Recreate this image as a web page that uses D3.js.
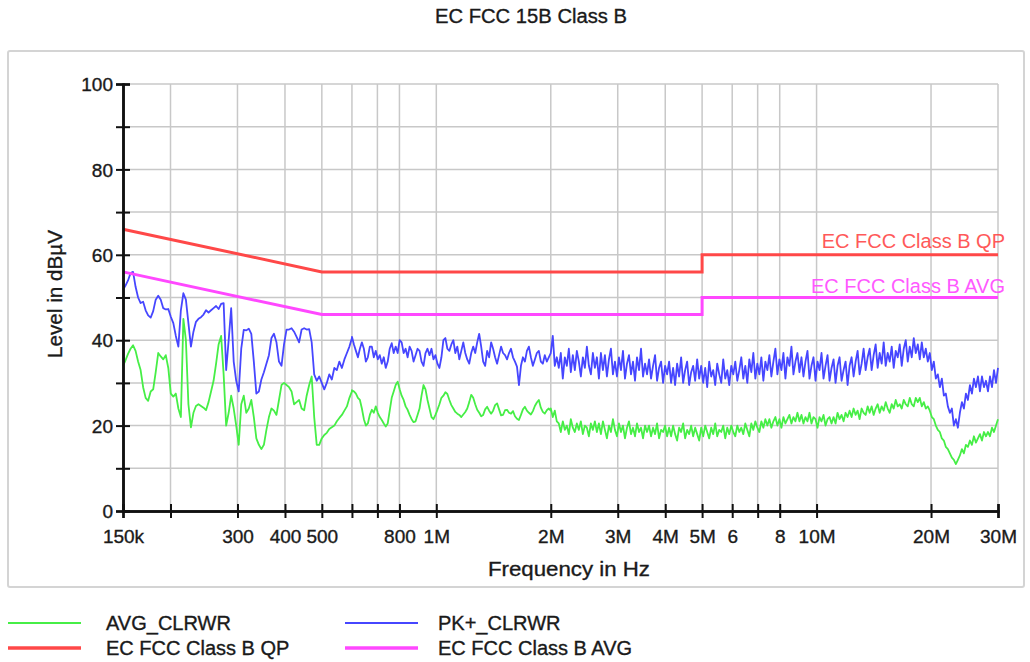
<!DOCTYPE html>
<html><head><meta charset="utf-8">
<script src="https://cdn.jsdelivr.net/npm/d3@7"></script>
<style>
body{margin:0;background:#fff;}
svg text{font-family:"Liberation Sans",Arial,sans-serif;fill:#1a1a1a;}
</style></head><body>
<svg id="chart" width="1030" height="662"></svg>
<script>
// ---------- data ----------
const chartTitle = "EC FCC 15B Class B";
const segStartHz = [150e3, 600e3, 2e6];
const segEndHz   = [600e3, 2e6, 30e6];

const pkA = [51.8,52.8,54,55.7,56,52.5,50,48.7,49,47,
45.8,45.3,46.8,49.5,50.4,49.5,47.5,47.2,47.3,45.5,
44,41,38.5,47,51,49.5,44,38.5,42,44.3,
45,45.4,46,47,46.5,47,47.5,48,47.3,48.5,
48.7,33,40,47.5,35,30.5,28,38,42.4,42.3,
42.7,41.5,35,27.5,28,30.8,32.5,34.5,36.5,40.5,
41.5,39.5,35,34,39,42.5,42.5,42.8,42,40.8,
39.5,42.5,42.8,42.5,42.6,39.5,32,30.5,31.5,30,
28.5,30,32,30.8,33.5,33,35,33.5,35.5,37,
38.5,40.5];
const pkB = [40.8,39,37.5,36,38,39.5,38,35,36,38.5,
38.5,36,37.5,35.5,36.5,34.5,36,33.5,35,38,
39.3,37,38.5,37,40,39.5,37,38,36,38.5,
37.5,35,36.5,38,37.5,35,34,37,38,36.5,
38,35.5,36.5,34.5,33.5,36,40,40.5,38,37.5,
39,40,37,38.5,35.5,37.5,39.5,37,35.5,34.5,
37,38.5,37,39.5,41.5,38.5,35,34,37.5,36,
39.5,38,36,34.5,36.5,38.5,37,36.5,35.5,37,
38,36,35,33.8,29.5,34,36,35,37.5,38.5,
36,34,35.5,37,37.5,35,34.5,36.5,35,36,
37];
const pkC = [37,41,34,36,
33.5,37,31,36,34,38,32.5,36.5,33,37.5,35,31.5,36,33.5,38.5,34,32,37,33.5,36,
31,37,33,36.5,31.5,35.5,38,32,35,
31.5,36,33,37.5,31,34.5,36.5,32,35,30.5,36,33,38,31.5,34.5,32,
35.5,31,34,36.5,30.5,33.5,35,30,34,32,
35,30,33.5,29.5,34.5,31.5,36,30,33,35,29.5,32.5,34,30.5,35.5,31,
34,30,33.5,29,35,31.5,33,29.5,34.5,32,30,35.5,31,33,29.5,34,32,
35,30.5,33,36,31,34,30,35.5,32.5,37,31,34.5,32,36,30.5,35,33,
36.5,31.5,35,38,32,35.5,33,37,31,36,34,38.5,32,35,37,32.5,
36,31.5,35,37.5,31,34,36,30.5,35,33,37,31,34,36.5,30.5,33.5,
35.5,30,34,36,30.5,33,35,29.5,34,
36,31.5,35,37.5,32,34.5,38,33,36,
38,33,36.5,39,33.5,37,34.5,39.5,34,37,35,38.5,33.5,37.5,36,39,
34,38,40,35,38.5,36,40.5,37,39,
35.5,39.5,36,38,35,
37,33,35,31,32,
29,31,27,27.5,24.5,
23,24,20,21.5,19.5,
23,25.5,24,27.5,26,
29.5,27.5,31,29,31.5,
28,31.5,29,30.5,28,
31.5,29,33,30,33.5];

const avgA = [34,35.3,36.8,38,38.8,37.5,35,33,29,26.5,
25.8,28,28.5,32.5,37,36.2,35.5,36.5,33.5,27.5,
26.8,27.5,24,22,45,40,25,19.6,23,24.6,
25,24.6,24.2,23.6,25.5,28,30.5,34.5,39,41,
32,20,23,27,24,20,15.5,25,27,23,
24,26,22,17,15.5,14.5,15.5,19,22,24,
23.5,22.5,26,29.5,30,29.5,29,28,25,25.5,
26,24,23.6,27,29.5,31.5,22,15.5,15.5,17,
17.8,18.3,19.2,19.6,20,21,21.8,22.5,23.5,24.5,
26.5,28];
const avgB = [28.3,28,27.5,26.5,26,24,21.5,20,20.5,22.5,
23.7,23,24.5,23,22,21.3,20.5,19.8,20.5,23.5,
26.5,28,29.5,30.3,28.5,27,26,24.5,23.7,22.5,
21.5,20.8,21,22.5,24,27,29.5,28.5,26,24,
22,21.5,22.5,23.7,25,26.5,27,27.8,27.4,26,
24.8,24,23.2,22.8,22.5,22,22.6,23.2,24,25.5,
27.2,26.5,25,23.7,23,22.2,22.5,23.8,24.4,23.5,
22.8,23.5,24.8,25.2,23.8,22.4,22.5,23.6,23.7,23,
22.8,23.4,22.2,21.6,21.3,22.5,23.8,24.4,23.5,23,
22.6,23.4,24.6,25.4,26,24.2,23.2,22.8,23.6,24,
23.5];
const avgC = [24,22,23.5,21,
20.5,18.5,21,19,20,18,21.5,19.5,18.5,20.5,19,21,18,20,19.5,17.5,20.5,19,21,18.5,
20.5,18,21,19,17,20,18.5,21.5,19,
17.5,20.5,18.5,20,17,19.5,21,18,19.5,17.5,20.5,18.5,19.5,17,20,18.5,
20,17.5,19.5,18,20.5,17,19,18.5,20,17.5,
19.5,17.5,20,18,16.5,19.5,18.5,20.5,17,19,18,20,17.5,19.5,18,16.5,
19.5,17.5,20,18.5,17,19.5,18,20.5,17.5,19,18.5,20,17,19.5,18,20,18.5,
17.5,20,18.5,19.5,18,20.5,19,17.5,20.5,19,21,19.5,18.5,21,19.5,21.5,20,
21.5,19.5,21,22,20,21.5,19.5,22,20.5,21.5,22.5,20.5,22,21,23,21,
22.5,20.5,22,21,23,20.5,22,21.5,19.5,22,21,22.5,20,21.5,22,20.5,
22,20.5,23,21.5,22.5,21,23,22,23.5,
22,24,22.5,23.5,21.5,24,23,22.5,24.5,
23,24.5,22.5,24,25,23,24.5,23.5,25.5,24,23,25,24,26,24.5,25,
24,26,25,24.5,26.5,25,24.5,26.5,25.5,
26.5,24.5,25.5,24,24.5,
23.5,22,21.5,20,19,
18.5,17,16.5,15,14.5,
13.5,12.5,12,11,12,
13,14.5,13.5,15.5,15,
16.5,15.5,17.5,16,17,
18,16.5,18.5,17.5,18.5,
17.5,19.5,18.5,20,21.5];

const limitFreqHz = [150e3, 500e3, 5e6, 5e6, 30e6];
const qpLimit  = [66, 56, 56, 60, 60];
const avgLimit = [56, 46, 46, 50, 50];

const xTickHz = [150e3,200e3,300e3,400e3,500e3,600e3,700e3,800e3,1e6,2e6,3e6,4e6,5e6,6e6,7e6,8e6,10e6,20e6,30e6];
const xTickLabels = ["150k","","300","400","500","","","800","1M","2M","3M","4M","5M","6","","8","10M","20M","30M"];
const yTicks = [0,10,20,30,40,50,60,70,80,90,100];
const yTickLabels = ["0","","20","","40","","60","","80","","100"];

const seriesNames = ["AVG_CLRWR","PK+_CLRWR","EC FCC Class B QP","EC FCC Class B AVG"];
const seriesColors = ["#46ee46","#4646ff","#ff4848","#ff48ff"];
const xTitle = "Frequency in Hz";
const yTitle = "Level in dBµV";

// ---------- build ----------
function buildTrace(segs){
  const pts = [];
  segs.forEach((vals,k)=>{
    const l0 = Math.log10(segStartHz[k]), l1 = Math.log10(segEndHz[k]);
    const n = vals.length;
    vals.forEach((v,i)=>{
      pts.push([Math.pow(10, l0 + (l1-l0)*i/(n-1)), v]);
    });
  });
  return pts;
}
const avgTrace = buildTrace([avgA, avgB, avgC]);
const pkTrace  = buildTrace([pkA, pkB, pkC]);

const svg = d3.select("#chart");
const x = d3.scaleLog().domain([150e3, 30e6]).range([123, 998]);
const y = d3.scaleLinear().domain([0, 100]).range([511, 84]);
const heavy = sel => sel.style("stroke","currentColor").style("stroke-width","0.35px");

// frame
svg.append("rect").attr("x",8).attr("y",51).attr("width",1016).attr("height",536)
  .attr("rx",2).attr("fill","none").attr("stroke","#d4d4d4").attr("stroke-width",2);

// title
svg.append("text").attr("x",531).attr("y",23).attr("text-anchor","middle").style("color","#1a1a1a")
  .style("font-size","20px").attr("textLength",192).attr("lengthAdjust","spacingAndGlyphs").text(chartTitle).call(heavy);

// grid
const grid = svg.append("g");
grid.selectAll("line.v").data(xTickHz.slice(1)).join("line")
  .attr("x1",d=>x(d)).attr("x2",d=>x(d)).attr("y1",y(0)).attr("y2",y(100))
  .attr("stroke","#c8c8c8").attr("stroke-width",1.5);
grid.selectAll("line.h").data(yTicks.slice(1)).join("line")
  .attr("x1",x(150e3)).attr("x2",x(30e6)).attr("y1",d=>y(d)).attr("y2",d=>y(d))
  .attr("stroke","#c8c8c8").attr("stroke-width",1.5);

// traces
const line = d3.line().x(d=>x(d[0])).y(d=>y(d[1]));
svg.append("path").datum(avgTrace).attr("d",line).attr("fill","none")
  .attr("stroke",seriesColors[0]).attr("stroke-width",1.8).attr("stroke-linejoin","round");
svg.append("path").datum(pkTrace).attr("d",line).attr("fill","none")
  .attr("stroke",seriesColors[1]).attr("stroke-width",1.8).attr("stroke-linejoin","round");

// limits
const qpPts = limitFreqHz.map((f,i)=>[f,qpLimit[i]]);
const avPts = limitFreqHz.map((f,i)=>[f,avgLimit[i]]);
svg.append("path").datum(qpPts).attr("d",line).attr("fill","none")
  .attr("stroke",seriesColors[2]).attr("stroke-width",3);
svg.append("path").datum(avPts).attr("d",line).attr("fill","none")
  .attr("stroke",seriesColors[3]).attr("stroke-width",3);
svg.append("text").attr("x",1005).attr("y",248).attr("text-anchor","end")
  .style("font-size","20px").style("fill",seriesColors[2]).attr("opacity",0.9).text(seriesNames[2]);
svg.append("text").attr("x",1005).attr("y",293).attr("text-anchor","end")
  .style("font-size","20px").style("fill",seriesColors[3]).attr("opacity",0.9).text(seriesNames[3]);

// axes
const yAxis = d3.axisLeft(y).tickValues(yTicks).tickFormat((d,i)=>yTickLabels[i]).tickSize(7).tickPadding(3);
const gy = svg.append("g").attr("transform",`translate(${x(150e3)},0)`).call(yAxis);
const gy2 = svg.append("g").attr("transform",`translate(${x(150e3)},0)`)
  .call(d3.axisLeft(y).tickValues(yTicks).tickFormat("").tickSize(-7));
const xAxis = d3.axisBottom(x).tickValues(xTickHz).tickFormat((d,i)=>xTickLabels[i]).tickSize(7).tickPadding(12);
const gx = svg.append("g").attr("transform",`translate(0,${y(0)})`).call(xAxis);
const gx2 = svg.append("g").attr("transform",`translate(0,${y(0)})`)
  .call(d3.axisBottom(x).tickValues(xTickHz).tickFormat("").tickSize(-7));
[gy,gy2,gx,gx2].forEach(g=>{
  g.selectAll(".domain").attr("stroke","#111").attr("stroke-width",2.5);
  g.selectAll(".tick line").attr("stroke","#111").attr("stroke-width",2);
  g.selectAll(".tick text").style("font-size","19px").style("font-family","'Liberation Sans',Arial,sans-serif")
    .attr("fill","#1a1a1a").style("color","#1a1a1a").call(heavy);
});
gy.selectAll(".tick text").attr("dy","0.35em");

// axis titles
svg.append("text").attr("x",569).attr("y",576).attr("text-anchor","middle").style("color","#1a1a1a")
  .style("font-size","21px").attr("textLength",162).attr("lengthAdjust","spacingAndGlyphs").text(xTitle).call(heavy);
svg.append("text").attr("transform","translate(62,294) rotate(-90)").attr("text-anchor","middle").style("color","#1a1a1a")
  .style("font-size","20px").attr("textLength",128).attr("lengthAdjust","spacingAndGlyphs").text(yTitle).call(heavy);

// legend
const legX = [8, 345], legTX = [106, 438], legY = [623, 648];
const legOrder = [[0,0,0],[1,1,0],[2,0,1],[3,1,1]];
legOrder.forEach(([s,col,row])=>{
  svg.append("line").attr("x1",legX[col]).attr("x2",legX[col]+73)
    .attr("y1",legY[row]).attr("y2",legY[row])
    .attr("stroke",seriesColors[s]).attr("stroke-width",row===0?2:3.5);
  svg.append("text").attr("x",legTX[col]).attr("y",legY[row]+7).style("color","#1a1a1a")
    .style("font-size","20px").text(seriesNames[s]).call(heavy);
});
</script>
</body></html>
